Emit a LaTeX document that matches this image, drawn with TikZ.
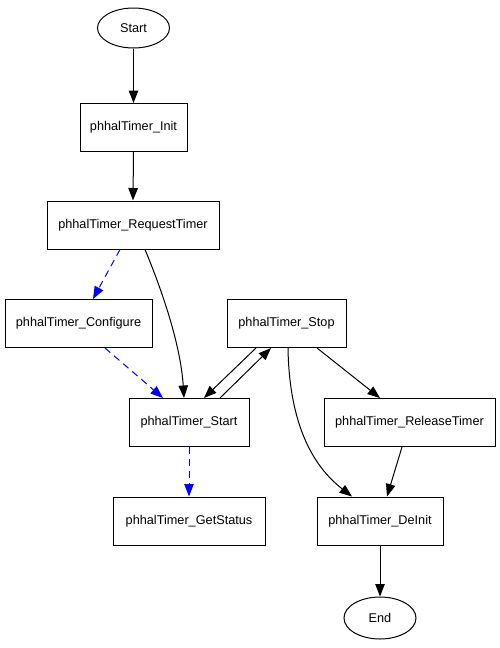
\documentclass[tikz,border=0pt]{standalone}
\usepackage{fontspec}
\setmainfont{Liberation Sans}
\usetikzlibrary{arrows.meta,shapes.geometric}
\begin{document}
\begin{tikzpicture}[x=1pt,y=-1pt,
  every node/.style={font=\fontsize{12.7}{15}\selectfont, inner sep=0pt},
  fbox/.style={draw, line width=1pt, minimum height=48pt, rectangle},
  term/.style={draw, line width=1pt, ellipse, minimum width=72pt, minimum height=40pt},
  edge/.style={line width=1pt, -{Triangle[length=12.5pt,width=9.5pt]}},
  dedge/.style={edge, blue, dash pattern=on 7pt off 5pt}]
\useasboundingbox (0,0) rectangle (500,648);
\node[term] (start) at (133.5,28) {Start};
\node[fbox, minimum width=107pt] (init) at (133.5,127.5) {phhalTimer\_Init};
\node[fbox, minimum width=172pt] (req) at (133,225) {phhalTimer\_RequestTimer};
\node[fbox, minimum width=147pt] (conf) at (78.5,323.5) {phhalTimer\_Configure};
\node[fbox, minimum width=119pt] (stop) at (286.5,323.5) {phhalTimer\_Stop};
\node[fbox, minimum width=120pt] (strt) at (189,422.5) {phhalTimer\_Start};
\node[fbox, minimum width=171pt] (rel) at (409.5,422.5) {phhalTimer\_ReleaseTimer};
\node[fbox, minimum width=152pt] (gs) at (189,521) {phhalTimer\_GetStatus};
\node[fbox, minimum width=126pt] (deinit) at (380,521) {phhalTimer\_DeInit};
\node[term, minimum height=42pt] (end) at (380,618) {End};

\draw[edge] (start.south) -- (init.north);
\draw[edge] (init.south) -- (req.north);
\draw[dedge] ([xshift=-13pt]req.south) -- ([xshift=14.5pt]conf.north);
\draw[edge] ([xshift=12pt]req.south) .. controls (166,300) and (181,350) .. ([xshift=-5pt]strt.north);
\draw[dedge] ([xshift=26.5pt]conf.south) -- ([xshift=-26pt]strt.north);
\draw[edge] ([xshift=-30.5pt]stop.south) -- ([xshift=15pt]strt.north);
\draw[edge] ([xshift=31pt]strt.north) -- ([xshift=-15.5pt]stop.south);
\draw[edge] ([xshift=30.5pt]stop.south) -- ([xshift=-29.5pt]rel.north);
\draw[edge] ([xshift=1.5pt]stop.south) .. controls (289,410) and (305,460) .. ([xshift=-28pt]deinit.north);
\draw[edge] ([xshift=-7.5pt]rel.south) -- ([xshift=7pt]deinit.north);
\draw[edge] (deinit.south) -- (end.north);
\draw[dedge] (strt.south) -- (gs.north);
\end{tikzpicture}
\end{document}
